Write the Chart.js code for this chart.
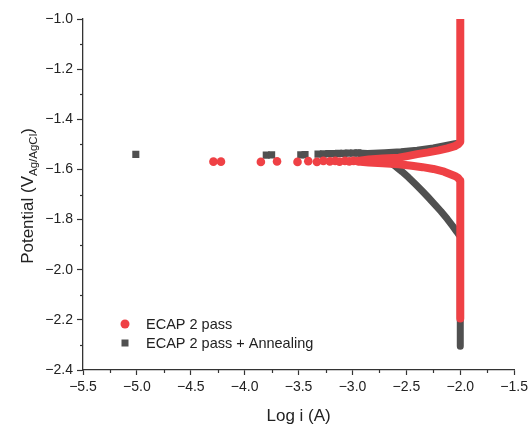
<!DOCTYPE html>
<html>
<head>
<meta charset="utf-8">
<script src="https://cdn.jsdelivr.net/npm/chart.js@4/dist/chart.umd.min.js"></script>
<style>
html,body{margin:0;padding:0;background:#fff;}
#wrap{width:532px;height:428px;position:relative;}
</style>
</head>
<body>
<div id="wrap"><canvas id="c" width="532" height="428"></canvas></div>
<script>
// ---- data ----
const seriesNames = ["ECAP 2 pass", "ECAP 2 pass + Annealing"];

const redMarkX = [-4.29, -4.22, -3.85, -3.70, -3.51, -3.41, -3.33, -3.27, -3.21, -3.16, -3.12, -3.07, -3.03, -2.99, -2.95];
const redMarkY = [-1.569, -1.569, -1.570, -1.568, -1.570, -1.567, -1.570, -1.566, -1.568, -1.566, -1.569, -1.566, -1.568, -1.566, -1.567];

const redAnodicX = [-2.95, -2.85, -2.72, -2.57, -2.48, -2.40, -2.30, -2.20, -2.12, -2.05, -2.02, -2.00, -2.00];
const redAnodicY = [-1.566, -1.560, -1.556, -1.553, -1.546, -1.539, -1.532, -1.524, -1.516, -1.507, -1.500, -1.490, -1.000];

const redCathodicX = [-2.95, -2.85, -2.72, -2.57, -2.45, -2.35, -2.25, -2.15, -2.05, -2.02, -2.00, -2.00];
const redCathodicY = [-1.568, -1.572, -1.575, -1.579, -1.585, -1.591, -1.598, -1.609, -1.626, -1.634, -1.645, -2.195];

const grayMarkX = [-5.01, -3.80, -3.75, -3.48, -3.44, -3.32, -3.27, -3.22, -3.17, -3.13, -3.08, -3.04, -2.99, -2.95];
const grayMarkY = [-1.540, -1.543, -1.542, -1.542, -1.541, -1.539, -1.538, -1.537, -1.537, -1.536, -1.536, -1.535, -1.535, -1.534];

const grayAnodicX = [-2.95, -2.86, -2.70, -2.55, -2.40, -2.25, -2.12, -2.05, -2.00];
const grayAnodicY = [-1.534, -1.536, -1.533, -1.529, -1.523, -1.514, -1.503, -1.497, -1.494];

const grayCathodicX = [-2.95, -2.85, -2.75, -2.67, -2.60, -2.54, -2.48, -2.42, -2.36, -2.30, -2.24, -2.18, -2.12, -2.07, -2.03, -2.00, -2.00];
const grayCathodicY = [-1.538, -1.543, -1.553, -1.567, -1.588, -1.609, -1.632, -1.657, -1.683, -1.710, -1.738, -1.767, -1.798, -1.826, -1.850, -1.869, -2.305];

const xTicks = [-5.5, -5.0, -4.5, -4.0, -3.5, -3.0, -2.5, -2.0, -1.5];
const yTicks = [-2.4, -2.2, -2.0, -1.8, -1.6, -1.4, -1.2, -1.0];

// ---- helpers ----
const RED = '#EF4145';
const GRAY = '#505050';
const AXIS = '#333333';
const TXT = '#222222';
const FONT = '"Liberation Sans", Arial, sans-serif';
const pts = (xs, ys) => xs.map((x, i) => ({x: x, y: ys[i]}));
const fmt = v => (Math.round(v * 10) / 10).toFixed(1).replace('-', '\u2212');

const lineDs = (xs, ys, color, w, order) => ({
  data: pts(xs, ys), showLine: true, borderColor: color, backgroundColor: color,
  borderWidth: w, pointRadius: 0, tension: 0, borderJoinStyle: 'round',
  borderCapStyle: 'butt', order: order
});

const overlay = {
  id: 'overlay',
  afterDraw(chart) {
    const ctx = chart.ctx;
    const xs = chart.scales.x, ys = chart.scales.y;
    ctx.save();
    // minor ticks
    ctx.strokeStyle = AXIS; ctx.lineWidth = 1.2;
    for (let i = 0; i < xTicks.length - 1; i++) {
      const px = Math.round(xs.getPixelForValue((xTicks[i] + xTicks[i + 1]) / 2)) + 0.5;
      ctx.beginPath(); ctx.moveTo(px, xs.top); ctx.lineTo(px, xs.top + 3); ctx.stroke();
    }
    for (let i = 0; i < yTicks.length - 1; i++) {
      const py = Math.round(ys.getPixelForValue((yTicks[i] + yTicks[i + 1]) / 2)) + 0.5;
      ctx.beginPath(); ctx.moveTo(ys.right, py); ctx.lineTo(ys.right - 3, py); ctx.stroke();
    }
    // x title
    ctx.fillStyle = TXT;
    ctx.font = '17px ' + FONT;
    ctx.textAlign = 'center'; ctx.textBaseline = 'middle';
    ctx.fillText('Log i (A)', (chart.chartArea.left + chart.chartArea.right) / 2, 416);
    // y title with subscript
    const main = 'Potential (V', sub = 'Ag/AgCl', end = ')';
    const fMain = '17px ' + FONT, fSub = '11.5px ' + FONT;
    ctx.font = fMain; const w1 = ctx.measureText(main).width; const w3 = ctx.measureText(end).width;
    ctx.font = fSub; const w2 = ctx.measureText(sub).width;
    const total = w1 + w2 + w3;
    ctx.translate(27, 196);
    ctx.rotate(-Math.PI / 2);
    ctx.textAlign = 'left'; ctx.textBaseline = 'alphabetic';
    let x0 = -total / 2;
    ctx.font = fMain; ctx.fillText(main, x0, 6);
    ctx.font = fSub; ctx.fillText(sub, x0 + w1, 10);
    ctx.font = fMain; ctx.fillText(end, x0 + w1 + w2, 6);
    ctx.setTransform(1, 0, 0, 1, 0, 0);
    // legend
    ctx.font = '14.5px ' + FONT;
    ctx.textAlign = 'left'; ctx.textBaseline = 'middle';
    ctx.fillStyle = RED;
    ctx.beginPath(); ctx.arc(125, 324, 4.5, 0, Math.PI * 2); ctx.fill();
    ctx.fillStyle = TXT; ctx.fillText(seriesNames[0], 146, 325);
    ctx.fillStyle = GRAY;
    ctx.fillRect(121.5, 339.5, 7, 7);
    ctx.fillStyle = TXT; ctx.fillText(seriesNames[1], 146, 343.5);
    ctx.restore();
  }
};

new Chart(document.getElementById('c'), {
  type: 'scatter',
  data: {
    datasets: [
      {label: seriesNames[0], data: pts(redMarkX, redMarkY), pointStyle: 'circle', pointRadius: 4.3,
       backgroundColor: RED, borderColor: RED, borderWidth: 0, order: 0},
      lineDs(redAnodicX, redAnodicY, RED, 8, 1),
      lineDs(redCathodicX, redCathodicY, RED, 8, 1),
      {label: seriesNames[1], data: pts(grayMarkX, grayMarkY), pointStyle: 'rect', pointRadius: 5,
       backgroundColor: GRAY, borderColor: GRAY, borderWidth: 0, order: 2},
      lineDs(grayAnodicX, grayAnodicY, GRAY, 7, 3),
      lineDs(grayCathodicX, grayCathodicY, GRAY, 7, 3)
    ]
  },
  options: {
    responsive: false,
    animation: false,
    layout: {padding: {top: 19, right: 14, left: 0, bottom: 0}},
    plugins: {legend: {display: false}, tooltip: {enabled: false}},
    scales: {
      x: {
        type: 'linear', min: -5.5, max: -1.5,
        afterFit: s => { s.height = 58; },
        border: {display: true, color: AXIS, width: 1.3},
        grid: {display: true, drawOnChartArea: false, drawTicks: true, tickLength: 5, tickColor: AXIS, tickWidth: 1.2},
        ticks: {stepSize: 0.5, autoSkip: false, maxRotation: 0, padding: 4, color: TXT,
                font: {family: FONT, size: 14}, callback: v => fmt(v)}
      },
      y: {
        type: 'linear', min: -2.4, max: -1.0,
        afterFit: s => { s.width = 83; },
        border: {display: true, color: AXIS, width: 1.3},
        grid: {display: true, drawOnChartArea: false, drawTicks: true, tickLength: 6, tickColor: AXIS, tickWidth: 1.2},
        ticks: {stepSize: 0.2, autoSkip: false, padding: 4, color: TXT,
                font: {family: FONT, size: 14}, callback: v => fmt(v)}
      }
    }
  },
  plugins: [overlay]
});
</script>
</body>
</html>
